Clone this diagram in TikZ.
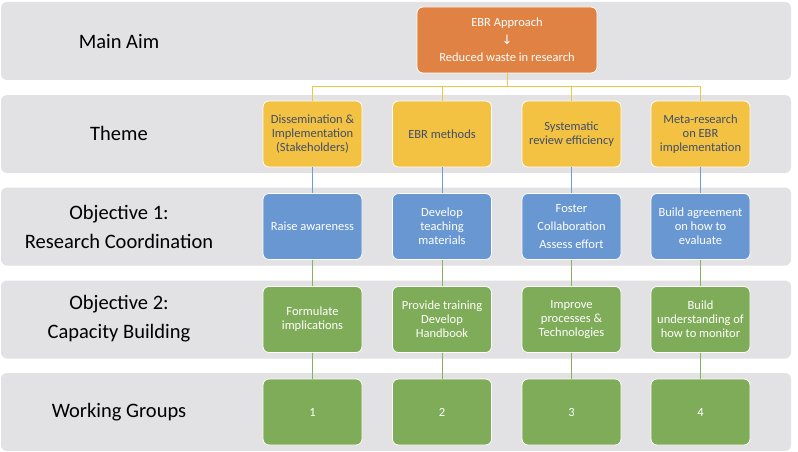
\documentclass[tikz,border=0pt]{standalone}
\usepackage{fontspec}
\setmainfont{Carlito}
\newfontfamily\symfnt{DejaVu Sans}
\definecolor{bandgray}{HTML}{E2E1E3}
\definecolor{orangebox}{HTML}{DF8244}
\definecolor{yellowbox}{HTML}{F4C242}
\definecolor{bluebox}{HTML}{6897D1}
\definecolor{greenbox}{HTML}{7FAC58}
\definecolor{themetext}{HTML}{3F4E6B}
\definecolor{goldline}{HTML}{EFC64A}
\definecolor{blueline}{HTML}{6F9BD6}
\definecolor{greenline}{HTML}{86B15F}
\begin{document}
\begin{tikzpicture}[x=1pt,y=-1pt,
  band/.style={fill=bandgray, rounded corners=6pt, minimum width=790pt, minimum height=78pt, inner sep=0pt},
  rowlabel/.style={font=\fontsize{20.5}{29}\selectfont, align=center, text=black},
  box/.style={draw=white, line width=0.8pt, rounded corners=6pt, minimum width=99pt, minimum height=66pt, inner sep=1pt, align=center, font=\fontsize{12.5}{13.8}\selectfont, text=white},
  theme/.style={box, fill=yellowbox, text=themetext},
  obja/.style={box, fill=bluebox},
  objb/.style={box, fill=greenbox},
  wg/.style={box, fill=greenbox},
  conn/.style={line width=0.8pt}
]
\useasboundingbox (0,0) rectangle (798,452);
\fill[white] (0,0) rectangle (798,452);
% bands
\node[band] (b1) at (396,41) {};
\node[band] (b2) at (396,134) {};
\node[band] (b3) at (396,226.5) {};
\node[band] (b4) at (396,319.5) {};
\node[band] (b5) at (396,412) {};
% row labels
\node[rowlabel] (l1) at (119,42) {Main Aim};
\node[rowlabel] (l2) at (119,133) {Theme};
\node[rowlabel] (l3) at (119,226.5) {Objective 1:\\Research Coordination};
\node[rowlabel] (l4) at (119,318.5) {Objective 2:\\Capacity Building};
\node[rowlabel] (l5) at (119,412) {Working Groups};
% main aim
\node[box, fill=orangebox, minimum width=180pt, font=\fontsize{12.5}{17.5}\selectfont] (aim) at (507,40) {EBR Approach\\{\symfnt\fontsize{13}{17.5}\selectfont ↓}\\Reduced waste in research};
% themes
\node[theme] (t1) at (312.5,134) {Dissemination \&\\Implementation\\(Stakeholders)};
\node[theme] (t2) at (442,134) {EBR methods};
\node[theme] (t3) at (571.5,134) {Systematic\\review efficiency};
\node[theme] (t4) at (700.5,134) {Meta-research\\on EBR\\implementation};
% objective 1
\node[obja] (o1) at (312.5,226.5) {Raise awareness};
\node[obja] (o2) at (442,226.5) {Develop\\teaching\\materials};
\node[obja, font=\fontsize{12.5}{18}\selectfont] (o3) at (571.5,226.5) {Foster\\Collaboration\\Assess effort};
\node[obja] (o4) at (700.5,226.5) {Build agreement\\on how to\\evaluate};
% objective 2
\node[objb] (p1) at (312.5,319.5) {Formulate\\implications};
\node[objb] (p2) at (442,319.5) {Provide training\\Develop\\Handbook};
\node[objb] (p3) at (571.5,319.5) {Improve\\processes \&\\Technologies};
\node[objb] (p4) at (700.5,319.5) {Build\\understanding of\\how to monitor};
% working groups
\node[wg] (w1) at (312.5,412) {1};
\node[wg] (w2) at (442,412) {2};
\node[wg] (w3) at (571.5,412) {3};
\node[wg] (w4) at (700.5,412) {4};
% connectors
\coordinate (hub) at (507,86);
\foreach \t in {t1,t2,t3,t4}{
  \draw[conn, goldline] (aim.south) -- (hub) -| (\t.north);
}
\foreach \a/\b in {t1/o1,t2/o2,t3/o3,t4/o4}{
  \draw[conn, blueline] (\a.south) -- (\b.north);
}
\foreach \a/\b in {o1/p1,o2/p2,o3/p3,o4/p4,p1/w1,p2/w2,p3/w3,p4/w4}{
  \draw[conn, greenline] (\a.south) -- (\b.north);
}
\end{tikzpicture}
\end{document}
